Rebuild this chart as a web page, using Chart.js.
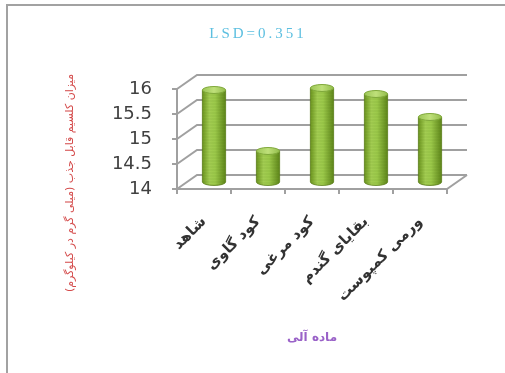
<!DOCTYPE html>
<html>
<head>
<meta charset="utf-8">
<script src="https://cdn.jsdelivr.net/npm/chart.js@4/dist/chart.umd.min.js"></script>
<style>
  html, body { margin: 0; padding: 0; background: #ffffff; }
  #wrap { width: 505px; height: 373px; position: relative; }
</style>
</head>
<body>
<div id="wrap"><canvas id="c" width="505" height="373"></canvas></div>
<script>
// Organic amendments and available calcium
const categories = ['شاهد', 'کود گاوی', 'کود مرغی', 'بقایای گندم', 'ورمی کمپوست'];
const calcium = [15.84, 14.62, 15.88, 15.76, 15.30];
const yTicks = [14, 14.5, 15, 15.5, 16];
const chartTitle = 'LSD=0.351';
const xTitle = 'ماده آلی';
const yTitle = 'میزان کلسیم قابل جذب (میلی گرم در کیلوگرم)';

// depth of the 3-D box (back wall offset)
const DX = 20, DY = -14;

function cylinder(ctx, cx, top, bottom, w) {
  const rx = w / 2, ry = w * 0.15;
  const g = ctx.createLinearGradient(cx - rx, 0, cx + rx, 0);
  g.addColorStop(0, '#6c951f');
  g.addColorStop(0.3, '#a3cd52');
  g.addColorStop(0.55, '#9cc94a');
  g.addColorStop(1, '#5e861a');
  ctx.beginPath();
  ctx.moveTo(cx - rx, top);
  ctx.lineTo(cx - rx, bottom);
  ctx.ellipse(cx, bottom, rx, ry, 0, Math.PI, 0, true);
  ctx.lineTo(cx + rx, top);
  ctx.closePath();
  ctx.fillStyle = g;
  ctx.fill();
  ctx.lineWidth = 1;
  ctx.strokeStyle = 'rgba(90,125,25,0.8)';
  ctx.stroke();
  // faint ring texture
  ctx.save();
  ctx.clip();
  ctx.strokeStyle = 'rgba(70,100,20,0.12)';
  for (let yy = top + 2; yy < bottom + ry; yy += 3) {
    ctx.beginPath();
    ctx.moveTo(cx - rx, yy);
    ctx.lineTo(cx + rx, yy);
    ctx.stroke();
  }
  ctx.restore();
  // top cap
  const tg = ctx.createLinearGradient(cx - rx, 0, cx + rx, 0);
  tg.addColorStop(0, '#9cc656');
  tg.addColorStop(0.5, '#bfe07a');
  tg.addColorStop(1, '#93bd4c');
  ctx.beginPath();
  ctx.ellipse(cx, top, rx, ry, 0, 0, Math.PI * 2);
  ctx.fillStyle = tg;
  ctx.fill();
  ctx.strokeStyle = '#7fa83a';
  ctx.stroke();
}

const box3d = {
  id: 'box3d',
  beforeDraw(chart) {
    const ctx = chart.ctx;
    ctx.save();
    ctx.fillStyle = '#ffffff';
    ctx.fillRect(0, 0, chart.width, chart.height);
    ctx.fillStyle = '#a2a2a2';
    ctx.fillRect(6, 4, 2, chart.height - 4);
    ctx.fillRect(6, 4, chart.width - 6, 2);
    ctx.restore();
  },
  beforeDatasetsDraw(chart) {
    const ctx = chart.ctx;
    const { left, right } = chart.chartArea;
    const y = chart.scales.y, x = chart.scales.x;
    const y0 = y.getPixelForValue(yTicks[0]);
    const y1 = y.getPixelForValue(yTicks[yTicks.length - 1]);
    ctx.save();
    ctx.strokeStyle = '#a0a0a0';
    ctx.lineWidth = 2;
    ctx.lineCap = 'butt';
    yTicks.forEach(v => {
      const py = y.getPixelForValue(v);
      ctx.beginPath();
      ctx.moveTo(left, py);
      ctx.lineTo(left + DX, py + DY);
      ctx.lineTo(right + DX, py + DY);
      ctx.stroke();
      ctx.beginPath();
      ctx.moveTo(left - 5, py);
      ctx.lineTo(left, py);
      ctx.stroke();
    });
    ctx.beginPath();
    ctx.moveTo(left, y1);
    ctx.lineTo(left, y0);
    ctx.lineTo(right, y0);
    ctx.lineTo(right + DX, y0 + DY);
    ctx.stroke();
    for (let i = 0; i <= categories.length; i++) {
      const px = x.getPixelForValue(i - 0.5);
      ctx.beginPath();
      ctx.moveTo(px, y0);
      ctx.lineTo(px, y0 + 5);
      ctx.stroke();
    }
    ctx.restore();
  },
  afterDatasetsDraw(chart) {
    const ctx = chart.ctx;
    const meta = chart.getDatasetMeta(0);
    ctx.save();
    meta.data.forEach(bar => {
      const p = bar.getProps(['x', 'y', 'base', 'width'], true);
      cylinder(ctx, p.x + DX / 2, p.y + DY / 2, p.base + DY / 2, p.width);
    });
    ctx.restore();
  },
  afterDraw(chart) {
    const ctx = chart.ctx;
    const { left, right } = chart.chartArea;
    ctx.save();
    ctx.textAlign = 'center';
    ctx.textBaseline = 'middle';
    ctx.direction = 'ltr';
    ctx.letterSpacing = '3px';
    ctx.fillStyle = '#5cbfe0';
    ctx.font = '15px "Liberation Serif"';
    ctx.fillText(chartTitle, 258, 34);
    ctx.letterSpacing = '0px';
    ctx.direction = 'rtl';
    ctx.fillStyle = '#9a62c8';
    ctx.font = 'bold 12px "DejaVu Sans"';
    ctx.fillText(xTitle, (left + right) / 2, 338);
    ctx.translate(70, 183);
    ctx.rotate(-Math.PI / 2);
    ctx.fillStyle = '#d44a4a';
    ctx.font = '11px "DejaVu Sans"';
    ctx.fillText(yTitle, 0, 0);
    ctx.restore();
  }
};

new Chart(document.getElementById('c'), {
  type: 'bar',
  data: {
    labels: categories,
    datasets: [{
      data: calcium,
      base: yTicks[0],
      backgroundColor: 'rgba(0,0,0,0)',
      borderWidth: 0,
      categoryPercentage: 1,
      barPercentage: 0.43
    }]
  },
  options: {
    responsive: false,
    animation: false,
    devicePixelRatio: 1,
    layout: { padding: { left: 0, right: 58, top: 89, bottom: 0 } },
    plugins: { legend: { display: false }, tooltip: { enabled: false }, title: { display: false } },
    scales: {
      x: {
        grid: { display: false, drawTicks: false },
        border: { display: false },
        ticks: {
          maxRotation: 45, minRotation: 45, padding: 24,
          color: '#333333',
          font: { family: '"DejaVu Sans"', size: 15, weight: 'bold' }
        },
        afterFit(s) { s.height = 373 - 189; }
      },
      y: {
        min: 14, max: 16,
        beginAtZero: false,
        grid: { display: false, drawTicks: false },
        border: { display: false },
        ticks: {
          stepSize: 0.5, padding: 25,
          color: '#404040',
          font: { family: '"DejaVu Sans"', size: 18 },
          callback: v => String(v)
        },
        afterFit(s) { s.width = 177; }
      }
    }
  },
  plugins: [box3d]
});
</script>
</body>
</html>
